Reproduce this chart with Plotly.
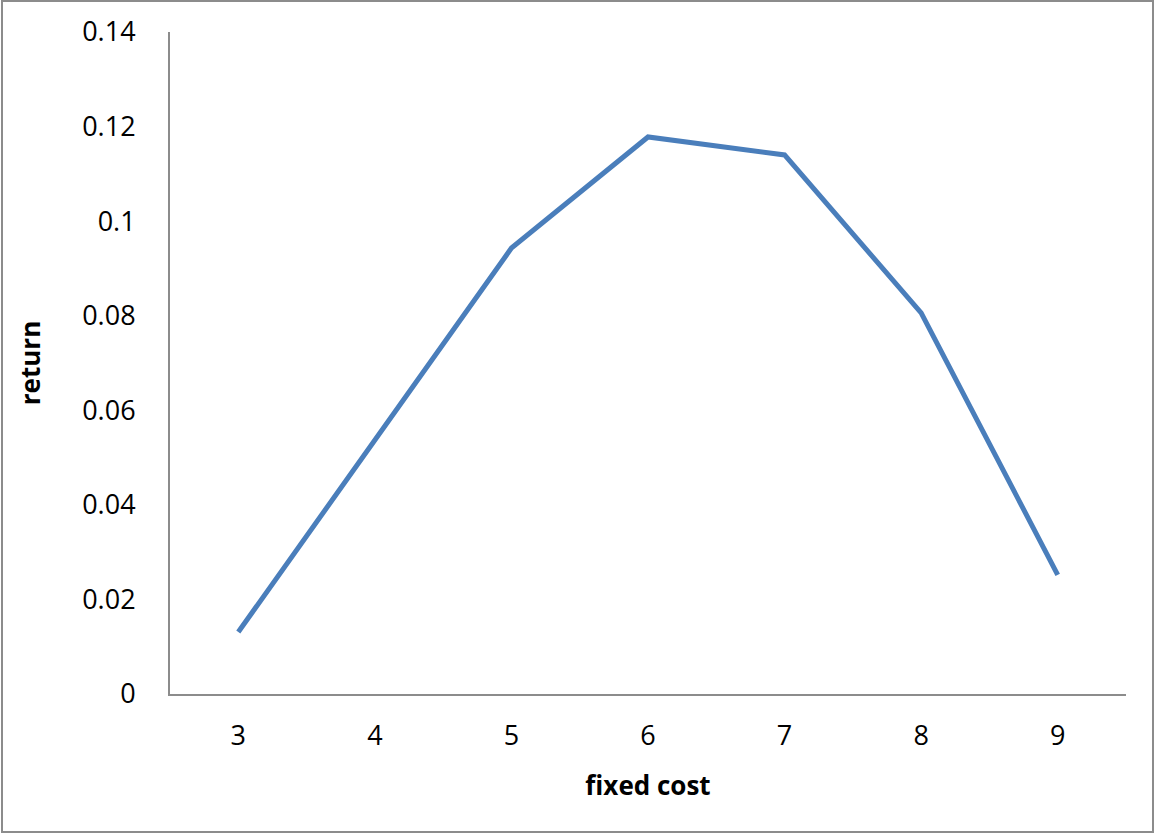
import plotly.graph_objects as go

# Return for each fixed-cost level
fixed_cost = ["3", "4", "5", "6", "7", "8", "9"]
returns = [0.0131, 0.0537, 0.0943, 0.1178, 0.1140, 0.0806, 0.0252]

y_ticks = [0, 0.02, 0.04, 0.06, 0.08, 0.1, 0.12, 0.14]
y_tick_text = ["0", "0.02", "0.04", "0.06", "0.08", "0.1", "0.12", "0.14"]

FONT = "Open Sans"
AXIS_GREY = "#8c8c8c"

fig = go.Figure(
    go.Scatter(
        x=fixed_cost,
        y=returns,
        mode="lines",
        line=dict(color="#4a7ebb", width=5),
        hoverinfo="x+y",
        showlegend=False,
    )
)

fig.update_layout(
    width=1155,
    height=835,
    margin=dict(l=170, r=29, t=32, b=141),
    paper_bgcolor="white",
    plot_bgcolor="white",
    font=dict(family=FONT, color="black", size=27),
    xaxis=dict(
        type="category",
        range=[-0.5, 6.5],
        showline=True,
        linecolor=AXIS_GREY,
        linewidth=2,
        showgrid=False,
        zeroline=False,
        ticks="",
        ticklabelstandoff=17,
        tickfont=dict(family=FONT, size=27),
        title=dict(
            text="<b>fixed cost</b>",
            font=dict(family=FONT, size=26),
            standoff=24,
        ),
    ),
    yaxis=dict(
        range=[0, 0.14],
        tickvals=y_ticks,
        ticktext=y_tick_text,
        showline=True,
        linecolor=AXIS_GREY,
        linewidth=2,
        showgrid=False,
        zeroline=False,
        ticks="",
        ticklabelstandoff=27,
        tickfont=dict(family=FONT, size=27),
        title=dict(
            text="<b>return</b>",
            font=dict(family=FONT, size=26),
            standoff=34,
        ),
    ),
    shapes=[
        # outer frame around the whole chart
        dict(
            type="rect",
            xref="paper",
            yref="paper",
            x0=(2 - 170) / 956,
            x1=(1153 - 170) / 956,
            y0=(694 - 832) / 662,
            y1=(694 - 1) / 662,
            line=dict(color="#8c8c8c", width=2),
            fillcolor="rgba(0,0,0,0)",
            layer="below",
        )
    ],
)

fig.write_html("out.html")
